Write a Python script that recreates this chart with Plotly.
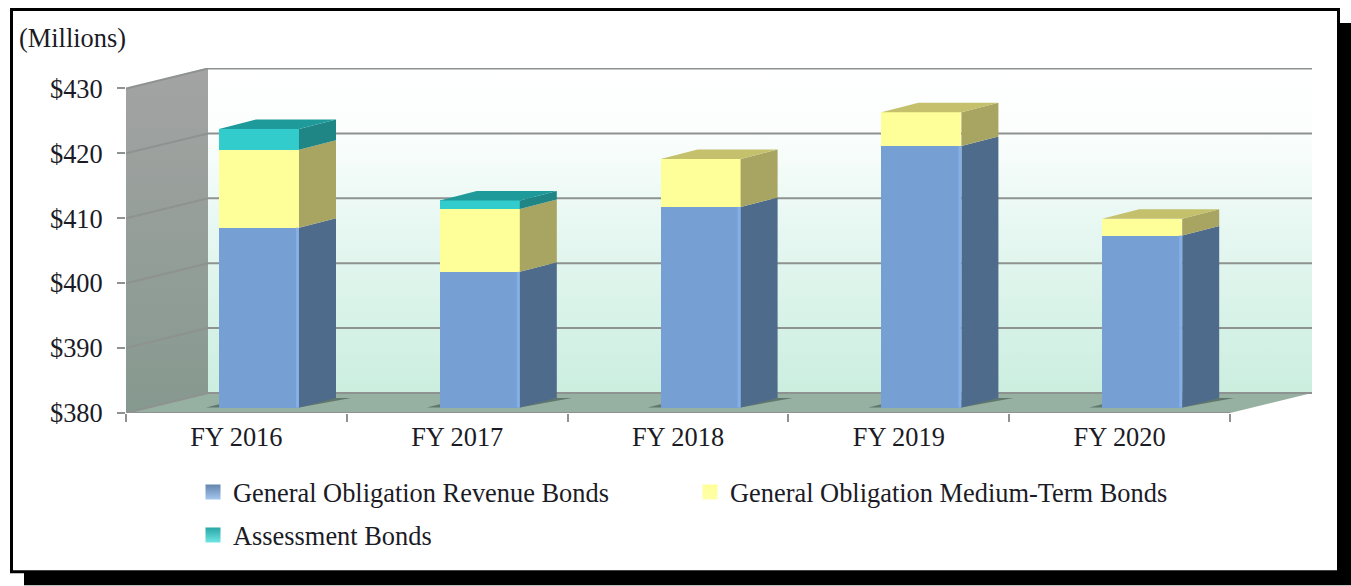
import plotly.graph_objects as go

# Chart data ($ millions)
categories = ["FY 2016", "FY 2017", "FY 2018", "FY 2019", "FY 2020"]
revenue_bonds = [407.7, 400.9, 410.9, 420.3, 406.5]
medium_term_bonds = [12.0, 9.7, 7.4, 5.2, 2.6]
assessment_bonds = [3.2, 1.3, 0.0, 0.0, 0.0]
y_ticks = [380, 390, 400, 410, 420, 430]
y_labels = ["$380", "$390", "$400", "$410", "$420", "$430"]

# Page geometry in pixels
W, H = 1351, 586
LEFT, TOP, BOTTOM, RIGHT_EDGE = 126, 68, 413.5, 1312
CAT_PX, UNIT_PX = 220.8, 6.5

# Pseudo-3D projection, expressed in axis units
WALL_DX = 82 / CAT_PX
WALL_DY = 20 / UNIT_PX
BAR_W = 80 / CAT_PX
BAR_SHIFT = 22.6 / CAT_PX
BAR_LIFT = 5.5 / UNIT_PX
SIDE_DX = 37 / CAT_PX
SIDE_DY = 9.5 / UNIT_PX
SHADOW_LEFT = 13 / CAT_PX
SHADOW_RIGHT = 15 / CAT_PX
N = len(categories)
X_RANGE = [0, (RIGHT_EDGE - LEFT) / CAT_PX]
Y_RANGE = [380, 380 + (BOTTOM - TOP) / UNIT_PX]
Y0 = y_ticks[0]
GRID = "#8e9290"
TEXT = "#1b1b26"
FONT = "Liberation Serif"
FONT_SIZE = 26.4


def paper_x(px):
    return (px - LEFT) / (RIGHT_EDGE - LEFT)


def paper_y(py):
    return (BOTTOM - py) / (BOTTOM - TOP)


def polygons(parts):
    xs, ys = [], []
    for part in parts:
        xs += [p[0] for p in part] + [part[0][0], None]
        ys += [p[1] for p in part] + [part[0][1], None]
    return xs, ys


fig = go.Figure()


def add_area(parts, color=None, gradient=None, xaxis="x", yaxis="y"):
    xs, ys = polygons(parts)
    kw = {"fillgradient": gradient} if gradient else {"fillcolor": color}
    fig.add_trace(go.Scatter(x=xs, y=ys, mode="lines", fill="toself", line_width=0,
                             showlegend=False, hoverinfo="skip", xaxis=xaxis, yaxis=yaxis, **kw))


# Back wall, left wall and floor of the box
top = Y_RANGE[1]
add_area([[(WALL_DX, Y0 + WALL_DY), (N + WALL_DX, Y0 + WALL_DY), (N + WALL_DX, top), (WALL_DX, top)]],
         gradient=dict(type="vertical", start=Y0 + WALL_DY, stop=top,
                       colorscale=[[0, "#cbeedf"], [0.5, "#e6f7f1"], [0.8, "#fbfefd"], [1, "#ffffff"]]))
add_area([[(0, Y0), (WALL_DX, Y0 + WALL_DY), (WALL_DX, top), (0, y_ticks[-1])]],
         gradient=dict(type="vertical", start=Y0, stop=top,
                       colorscale=[[0, "#86998f"], [1, "#a3a3a3"]]))
add_area([[(0, Y0), (N, Y0), (N + WALL_DX, Y0 + WALL_DY), (WALL_DX, Y0 + WALL_DY)]], color="#96b0a2")

# Gridlines running along the left wall and the back wall
grid_x, grid_y = [], []
for v in y_ticks:
    grid_x += [0, WALL_DX, N + WALL_DX, None]
    grid_y += [v, v + WALL_DY, v + WALL_DY, None]
fig.add_trace(go.Scatter(x=grid_x, y=grid_y, mode="lines", line=dict(color=GRID, width=2),
                         showlegend=False, hoverinfo="skip", cliponaxis=False))
fig.add_trace(go.Scatter(x=[0, N], y=[Y0, Y0], mode="lines", line=dict(color=GRID, width=2),
                         showlegend=False, hoverinfo="skip", cliponaxis=False))

centers = [i + 0.5 + BAR_SHIFT for i in range(N)]

# Slivers of shadow cast on the floor either side of each column
base = Y0 + BAR_LIFT
shadow_parts = []
for c in centers:
    x_l, x_r = c - BAR_W / 2, c + BAR_W / 2
    shadow_parts.append([(x_l - SHADOW_LEFT, base), (x_r, base),
                         (x_r + SIDE_DX + SHADOW_RIGHT, base + SIDE_DY), (x_r + SIDE_DX, base + SIDE_DY),
                         (x_l, base + 0.5)])
add_area(shadow_parts, color="rgba(52,72,66,0.55)")

# Stacked columns drawn on the overlaid axes so they sit above the box
series = [
    ("General Obligation Revenue Bonds", revenue_bonds, "#769fd4", "#4f6b8c", "#4f6b8c",
     "#6484ad", "#a5c8ee", "legend"),
    ("General Obligation Medium-Term Bonds", medium_term_bonds, "#ffff99", "#a8a562", "#c4c06c",
     "#ffff99", "#ffffa8", "legend"),
    ("Assessment Bonds", assessment_bonds, "#33cccc", "#1f8585", "#1f9a9a",
     "#2aa5a5", "#6fe6e6", "legend2"),
]
totals = [sum(vals) for vals in zip(revenue_bonds, medium_term_bonds, assessment_bonds)]
lows = [Y0] * N
for idx, (name, vals, front, side, cap, key, key_light, legend) in enumerate(series):
    # The first series starts at the axis floor, the rest stack on the running total
    highs = list(vals) if idx == 0 else [a + b for a, b in zip(lows, vals)]
    heights = [hi - lo for lo, hi in zip(lows, highs)]
    fig.add_trace(go.Bar(x=centers, y=heights, base=[lo + BAR_LIFT for lo in lows], width=BAR_W,
                         marker=dict(color=front, line_width=0), name=name, showlegend=False,
                         legendgroup=name, hoverinfo="skip", xaxis="x2", yaxis="y2"))
    sides, caps = [], []
    for c, lo, hi, h, total in zip(centers, lows, highs, heights, totals):
        if h <= 0:
            continue
        x0 = c + BAR_W / 2
        y_lo, y_hi = lo + BAR_LIFT, hi + BAR_LIFT
        sides.append([(x0, y_lo), (x0 + SIDE_DX, y_lo + SIDE_DY), (x0 + SIDE_DX, y_hi + SIDE_DY), (x0, y_hi)])
        if abs(hi - total) < 1e-6:
            caps.append([(x0 - BAR_W, y_hi), (x0, y_hi), (x0 + SIDE_DX, y_hi + SIDE_DY),
                         (x0 - BAR_W + SIDE_DX, y_hi + SIDE_DY)])
    add_area(sides, color=side, xaxis="x2", yaxis="y2")
    if caps:
        add_area(caps, color=cap, xaxis="x2", yaxis="y2")
    if idx == 0:
        # Bevel highlight along the front right edge of the blue columns
        edge_x, edge_y = [], []
        for c, lo, hi in zip(centers, lows, highs):
            x_edge = c + BAR_W / 2 - 1.5 / CAT_PX
            edge_x += [x_edge, x_edge, None]
            edge_y += [lo + BAR_LIFT, hi + BAR_LIFT, None]
        fig.add_trace(go.Scatter(x=edge_x, y=edge_y, mode="lines", line=dict(color="#85afe6", width=3),
                                 showlegend=False, hoverinfo="skip", xaxis="x2", yaxis="y2"))
    # Legend key for the series
    fig.add_trace(go.Scatter(x=[None], y=[None], mode="markers", name=name, legend=legend, legendgroup=name,
                             marker=dict(symbol="square", size=15, color=key,
                                         gradient=dict(type="vertical", color=key_light)),
                             hoverinfo="skip"))
    lows = highs

# Outer frame and drop shadow
shapes = []
for x0, y0, x1, y1, col in [(24, 23, 1351, 586, "#000000"), (10, 8, 1340, 574, "#000000"),
                            (13, 11, 1337, 571, "#ffffff")]:
    shapes.append(dict(type="rect", xref="paper", yref="paper", x0=paper_x(x0), x1=paper_x(x1),
                       y0=paper_y(y0), y1=paper_y(y1), fillcolor=col, line_width=0, layer="below"))

tick_font = dict(family=FONT, size=FONT_SIZE, color=TEXT)
fig.update_layout(
    width=W, height=H, autosize=False,
    margin=dict(l=LEFT, r=W - RIGHT_EDGE, t=TOP, b=H - BOTTOM, pad=0),
    paper_bgcolor="#ffffff", plot_bgcolor="rgba(0,0,0,0)",
    barmode="overlay", bargap=0, shapes=shapes,
    font=tick_font,
    xaxis=dict(range=X_RANGE, tickmode="array", tickvals=[i + 0.5 for i in range(N)], ticktext=categories,
               ticks="", showgrid=False, zeroline=False, showline=False, ticklabelstandoff=6,
               tickfont=tick_font,
               minor=dict(tickmode="array", tickvals=list(range(N + 1)), ticks="outside", ticklen=8,
                          tickwidth=2, tickcolor=GRID, showgrid=False)),
    yaxis=dict(range=Y_RANGE, tickmode="array", tickvals=y_ticks, ticktext=y_labels, ticks="outside",
               ticklen=8, tickwidth=2, tickcolor=GRID, showgrid=False, zeroline=False, showline=False,
               ticklabelstandoff=9, tickfont=tick_font),
    xaxis2=dict(overlaying="x", matches="x", visible=False),
    yaxis2=dict(overlaying="y", matches="y", visible=False),
    legend=dict(orientation="h", x=paper_x(193), y=paper_y(469), xanchor="left", yanchor="top",
                entrywidth=452, entrywidthmode="pixels", bgcolor="rgba(0,0,0,0)",
                font=tick_font, itemclick=False, itemdoubleclick=False),
    legend2=dict(orientation="h", x=paper_x(193), y=paper_y(512), xanchor="left", yanchor="top",
                 bgcolor="rgba(0,0,0,0)", font=tick_font, itemclick=False, itemdoubleclick=False),
    annotations=[dict(text="(Millions)", xref="paper", yref="paper", x=paper_x(17), y=paper_y(38),
                      xanchor="left", yanchor="middle", showarrow=False, font=tick_font)],
)

fig.write_html("out.html", config={"displayModeBar": False})
